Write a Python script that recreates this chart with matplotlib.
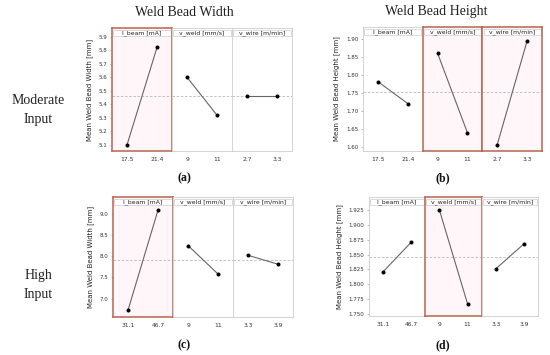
import matplotlib
matplotlib.use("Agg")
import matplotlib.pyplot as plt
from matplotlib.patches import Rectangle

W, H = 550, 355

factors = ["I_beam [mA]", "v_weld [mm/s]", "v_wire [m/min]"]

# (a) width, moderate input
a_levels = [["17.5", "21.4"], ["9", "11"], ["2.7", "3.3"]]
a_means = [[5.10, 5.82], [5.60, 5.32], [5.46, 5.46]]
a_grand = 5.46
a_ticks = [5.1, 5.2, 5.3, 5.4, 5.5, 5.6, 5.7, 5.8, 5.9]
a_ticklabels = ["5.1", "5.2", "5.3", "5.4", "5.5", "5.6", "5.7", "5.8", "5.9"]

# (b) height, moderate input
b_levels = [["17.5", "21.4"], ["9", "11"], ["2.7", "3.3"]]
b_means = [[1.781, 1.720], [1.860, 1.639], [1.606, 1.894]]
b_grand = 1.751
b_ticks = [1.60, 1.65, 1.70, 1.75, 1.80, 1.85, 1.90]
b_ticklabels = ["1.60", "1.65", "1.70", "1.75", "1.80", "1.85", "1.90"]

# (c) width, high input
c_levels = [["31.1", "46.7"], ["9", "11"], ["3.3", "3.9"]]
c_means = [[6.73, 9.08], [8.25, 7.58], [8.02, 7.81]]
c_grand = 7.91
c_ticks = [7.0, 7.5, 8.0, 8.5, 9.0]
c_ticklabels = ["7.0", "7.5", "8.0", "8.5", "9.0"]

# (d) height, high input
d_levels = [["31.1", "46.7"], ["9", "11"], ["3.3", "3.9"]]
d_means = [[1.821, 1.871], [1.925, 1.767], [1.826, 1.868]]
d_grand = 1.846
d_ticks = [1.750, 1.775, 1.800, 1.825, 1.850, 1.875, 1.900, 1.925]
d_ticklabels = ["1.750", "1.775", "1.800", "1.825", "1.850", "1.875", "1.900", "1.925"]

fig = plt.figure(figsize=(W / 100, H / 100), dpi=100)
fig.patch.set_facecolor("white")

SERIF = ["Liberation Serif", "DejaVu Serif"]
RED = "#b8644e"
PINK = "#fef6f8"
GRAY = "#cccccc"


def panel(left, right, top, bottom, ylim, levels, means, grand, ticks, ticklabels,
          ylabel, highlight):
    fw = (right - left) / 3.0
    strip_px = 8.0
    for i in range(3):
        x0 = left + i * fw
        ax = fig.add_axes([x0 / W, 1 - bottom / H, fw / W, (bottom - top) / H])
        ax.set_xlim(-0.5, 1.5)
        ax.set_ylim(*ylim)
        hl = i in highlight
        ax.set_facecolor(PINK if hl else "white")
        for s in ax.spines.values():
            s.set_color(RED if hl else GRAY)
            s.set_linewidth(1.1 if hl else 0.6)
            s.set_zorder(5)
        ax.axhline(grand, color="#b8b8b8", lw=0.6, ls=(0, (3, 2)), zorder=1)
        ax.plot([0, 1], means[i], color="#666666", lw=0.8, zorder=3)
        ax.plot([0, 1], means[i], "o", color="black", ms=1.9, zorder=4)
        ax.set_xticks([0, 1])
        ax.set_xticklabels(levels[i], fontsize=4.3, color="#333333")
        ax.tick_params(axis="x", length=0, pad=4)
        frac = strip_px / (bottom - top)
        ax.add_patch(Rectangle((0.02, 1 - frac), 0.96, frac - 0.015,
                               transform=ax.transAxes, facecolor="white",
                               edgecolor=GRAY, lw=0.5, zorder=4))
        ax.text(0.5, 1 - frac / 2 - 0.006, factors[i], transform=ax.transAxes,
                ha="center", va="center", fontsize=4.4, color="#222222", zorder=6)
        if i == 0:
            ax.set_yticks(ticks)
            ax.set_yticklabels(ticklabels, fontsize=4.0, color="#333333")
            ax.tick_params(axis="y", length=1.5, width=0.4, pad=2, color="#888888")
            ax.set_ylabel(ylabel, fontsize=5.0, color="#222222", labelpad=4)
        else:
            ax.set_yticks([])


panel(112, 292, 28, 151, (5.055, 5.964), a_levels, a_means, a_grand, a_ticks,
      a_ticklabels, "Mean Weld Bead Width [mm]", [0])
panel(363, 542, 27, 151, (1.588, 1.933), b_levels, b_means, b_grand, b_ticks,
      b_ticklabels, "Mean Weld Bead Height [mm]", [1, 2])
panel(113, 293, 197, 317, (6.57, 9.39), c_levels, c_means, c_grand, c_ticks,
      c_ticklabels, "Mean Weld Bead Width [mm]", [0])
panel(369, 538, 197, 316, (1.7466, 1.947), d_levels, d_means, d_grand, d_ticks,
      d_ticklabels, "Mean Weld Bead Height [mm]", [1])

fig.text(184 / W, 1 - 12 / H, "Weld Bead Width", family=SERIF, fontsize=10,
         ha="center", va="center", color="#222222")
fig.text(436 / W, 1 - 12 / H, "Weld Bead Height", family=SERIF, fontsize=10,
         ha="center", va="center", color="#222222")
fig.text(38 / W, 1 - 110 / H, "Moderate\nInput", family=SERIF, fontsize=10,
         ha="center", va="center", color="#222222", linespacing=1.6)
fig.text(38 / W, 1 - 285 / H, "High\nInput", family=SERIF, fontsize=10,
         ha="center", va="center", color="#222222", linespacing=1.6)
for lab, x, y in [("(a)", 184, 178), ("(b)", 443, 178), ("(c)", 184, 345), ("(d)", 443, 345)]:
    fig.text(x / W, 1 - y / H, lab, family=SERIF, fontsize=8.5, fontweight="bold",
             ha="center", va="center", color="#111111")

fig.savefig("out.png", dpi=100, facecolor="white")
